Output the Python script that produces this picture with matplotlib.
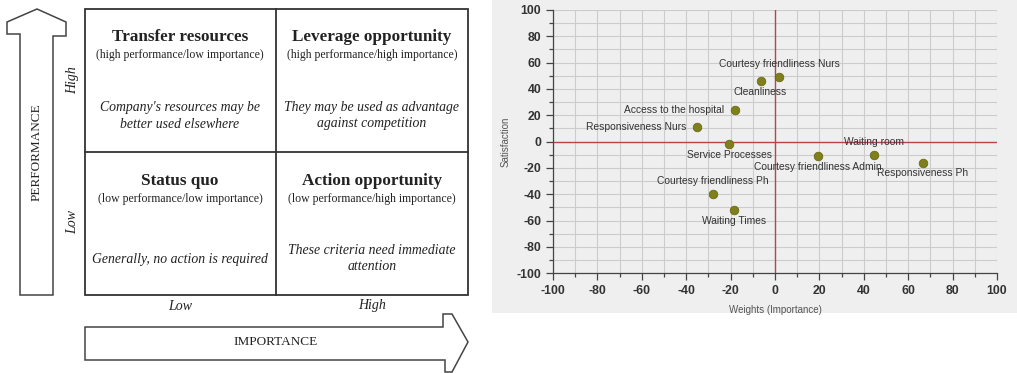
import matplotlib
matplotlib.use("Agg")
import matplotlib.pyplot as plt
from matplotlib.patches import Polygon, Rectangle

plt.rcParams["axes.unicode_minus"] = False

# ---- data: importance-performance quadrants ----
quad_titles = ["Transfer resources", "Leverage opportunity", "Status quo", "Action opportunity"]
quad_subs = ["(high performance/low importance)", "(high performance/high importance)",
             "(low performance/low importance)", "(low performance/high importance)"]
quad_notes = ["Company's resources may be\nbetter used elsewhere",
              "They may be used as advantage\nagainst competition",
              "Generally, no action is required",
              "These criteria need immediate\nattention"]
level_labels = ["Low", "High"]

# ---- data: scatter ----
names = ["Courtesy friendliness Nurs", "Cleanliness", "Access to the hospital",
         "Responsiveness Nurs", "Service Processes", "Courtesy friendliness Admin",
         "Waiting room", "Responsiveness Ph", "Courtesy friendliness Ph", "Waiting Times"]
weights = [2, -6.5, -18, -35, -20.5, 19.5, 44.5, 66.5, -28, -18.5]
satisfaction = [49, 46, 24, 11, -2, -11, -10, -16, -40, -52]
# label placement: (dx, dy) in points and alignment
label_pos = [(0, 9.5, "center"), (0, -7.5, "center"), (-8, 0, "right"), (-8, 0, "right"),
             (0, -7.5, "center"), (0, -7.5, "center"), (0, 9.5, "center"), (0, -7.5, "center"),
             (0, 9.5, "center"), (0, -7.5, "center")]
ticks = list(range(-100, 101, 20))

fig = plt.figure(figsize=(10.17, 3.73), dpi=100)

# gray panel behind the scatter
bg = fig.add_axes([492 / 1017, 1 - 313 / 373, 525 / 1017, 313 / 373], zorder=-5)
bg.set_facecolor("#efefef")
bg.set_xticks([])
bg.set_yticks([])
for s in bg.spines.values():
    s.set_visible(False)

# ----------------- left diagram, pixel coords -----------------
ax0 = fig.add_axes([0, 0, 480 / 1017, 1])
ax0.set_xlim(0, 480)
ax0.set_ylim(373, 0)
ax0.axis("off")

line_c = "#333333"
ax0.add_patch(Rectangle((85, 9), 383, 286, fill=False, ec=line_c, lw=1.3))
ax0.plot([276, 276], [9, 295], color=line_c, lw=1.3)
ax0.plot([85, 468], [152, 152], color=line_c, lw=1.3)

up = [(20, 295), (20, 34), (7, 34), (7, 22), (37, 9), (66, 22), (66, 36), (53, 36), (53, 295)]
ax0.add_patch(Polygon(up, closed=True, fill=False, ec="#444444", lw=1.1))
right = [(85, 327), (443, 327), (443, 314), (452, 314), (468, 342), (452, 372),
         (445, 372), (445, 360), (85, 360)]
ax0.add_patch(Polygon(right, closed=True, fill=False, ec="#444444", lw=1.1))

serif = "Liberation Serif"
tc = "#222222"
ax0.text(37, 152, "PERFORMANCE", rotation=90, ha="center", va="center",
         family=serif, fontsize=9.5, color=tc)
ax0.text(276, 342, "IMPORTANCE", ha="center", va="center", family=serif, fontsize=9.5, color=tc)
ax0.text(73, 80, level_labels[1], rotation=90, ha="center", va="center",
         family=serif, style="italic", fontsize=10, color=tc)
ax0.text(73, 222, level_labels[0], rotation=90, ha="center", va="center",
         family=serif, style="italic", fontsize=10, color=tc)
ax0.text(180, 306, level_labels[0], ha="center", va="center", family=serif,
         style="italic", fontsize=10, color=tc)
ax0.text(372, 306, level_labels[1], ha="center", va="center", family=serif,
         style="italic", fontsize=10, color=tc)

cx = [180, 372, 180, 372]
ty = [37, 37, 181, 181]
note_y = [116, 116, 259, 259]
for i in range(4):
    ax0.text(cx[i], ty[i], quad_titles[i], ha="center", va="center", family=serif,
             fontweight="bold", fontsize=12.3, color=tc)
    ax0.text(cx[i], ty[i] + 18, quad_subs[i], ha="center", va="center", family=serif,
             fontsize=8.5, color=tc)
    ax0.text(cx[i], note_y[i], quad_notes[i], ha="center", va="center", family=serif,
             style="italic", fontsize=9.9, color=tc, linespacing=1.3)

# ----------------- right scatter -----------------
ax = fig.add_axes([553 / 1017, 99.7 / 373, 444 / 1017, 263.3 / 373])
ax.set_facecolor("#efefef")
ax.set_xlim(-100, 100)
ax.set_ylim(-100, 100)
ax.set_xticks(ticks)
ax.set_yticks(ticks)
ax.set_xticks(range(-90, 100, 20), minor=True)
ax.set_yticks(range(-90, 100, 20), minor=True)
ax.grid(True, which="both", color="#cccccc", lw=0.8)
ax.set_axisbelow(True)
for s in ["top", "right"]:
    ax.spines[s].set_visible(False)
for s in ["left", "bottom"]:
    ax.spines[s].set_color("#444444")
    ax.spines[s].set_linewidth(0.9)
ax.tick_params(which="both", direction="out", color="#444444", width=0.9)
ax.tick_params(which="major", length=5, labelsize=8.8, labelcolor="#333333")
ax.tick_params(which="minor", length=3)
for lab in ax.get_xticklabels() + ax.get_yticklabels():
    lab.set_fontweight("bold")
    lab.set_family("Liberation Sans")

ax.axhline(0, color="#b5474a", lw=1.0)
ax.axvline(0, color="#b5474a", lw=1.0)

ax.scatter(weights, satisfaction, s=38, color="#7f7f1c", edgecolors="#6a6a15",
           linewidths=0.6, zorder=3)
for n, x, y, (dx, dy, ha) in zip(names, weights, satisfaction, label_pos):
    ax.annotate(n, (x, y), xytext=(dx, dy), textcoords="offset points", ha=ha,
                va="center", fontsize=7.4, family="Liberation Sans", color="#333333", zorder=4)

ax.set_xlabel("Weights (Importance)", fontsize=7, color="#555555", family="Liberation Sans",
              labelpad=6)
ax.set_ylabel("Satisfaction", fontsize=7, color="#555555", family="Liberation Sans",
              labelpad=4)

fig.savefig("out.png", dpi=100)
